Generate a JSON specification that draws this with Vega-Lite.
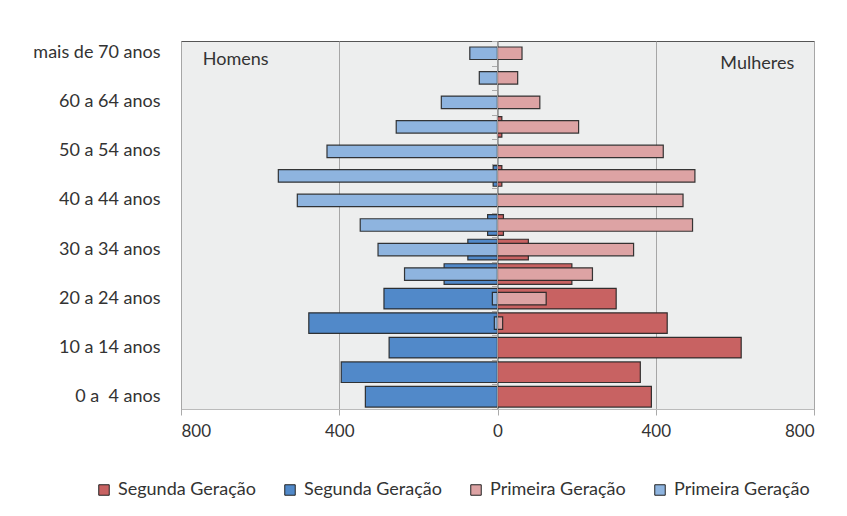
{
  "$schema": "https://vega.github.io/schema/vega-lite/v6.json",
  "width": 633,
  "height": 368,
  "autosize": {"type": "none"},
  "padding": {"left": 181, "top": 41, "right": 33, "bottom": 107},
  "background": "white",
  "config": {
    "font": "Lato",
    "view": {"fill": "#EDEEEE", "stroke": "#555555", "strokeWidth": 1}
  },
  "datasets": {
    "pop": [
      {"idade": "mais de 70 anos", "grupo": "H1", "valor": -70},
      {"idade": "65 a 69 anos", "grupo": "H1", "valor": -46},
      {"idade": "60 a 64 anos", "grupo": "H1", "valor": -142},
      {"idade": "55 a 59 anos", "grupo": "H1", "valor": -256},
      {"idade": "50 a 54 anos", "grupo": "H1", "valor": -431},
      {"idade": "45 a 49 anos", "grupo": "H1", "valor": -554},
      {"idade": "40 a 44 anos", "grupo": "H1", "valor": -506},
      {"idade": "35 a 39 anos", "grupo": "H1", "valor": -347},
      {"idade": "30 a 34 anos", "grupo": "H1", "valor": -302},
      {"idade": "25 a 29 anos", "grupo": "H1", "valor": -235},
      {"idade": "20 a 24 anos", "grupo": "H1", "valor": -13},
      {"idade": "15 a 19 anos", "grupo": "H1", "valor": -8},
      {"idade": "mais de 70 anos", "grupo": "M1", "valor": 62},
      {"idade": "65 a 69 anos", "grupo": "M1", "valor": 51},
      {"idade": "60 a 64 anos", "grupo": "M1", "valor": 107},
      {"idade": "55 a 59 anos", "grupo": "M1", "valor": 205},
      {"idade": "50 a 54 anos", "grupo": "M1", "valor": 419},
      {"idade": "45 a 49 anos", "grupo": "M1", "valor": 499},
      {"idade": "40 a 44 anos", "grupo": "M1", "valor": 469},
      {"idade": "35 a 39 anos", "grupo": "M1", "valor": 493},
      {"idade": "30 a 34 anos", "grupo": "M1", "valor": 344},
      {"idade": "25 a 29 anos", "grupo": "M1", "valor": 240},
      {"idade": "20 a 24 anos", "grupo": "M1", "valor": 123},
      {"idade": "15 a 19 anos", "grupo": "M1", "valor": 13},
      {"idade": "45 a 49 anos", "grupo": "H2", "valor": -11},
      {"idade": "35 a 39 anos", "grupo": "H2", "valor": -25},
      {"idade": "30 a 34 anos", "grupo": "H2", "valor": -75},
      {"idade": "25 a 29 anos", "grupo": "H2", "valor": -135},
      {"idade": "20 a 24 anos", "grupo": "H2", "valor": -287},
      {"idade": "15 a 19 anos", "grupo": "H2", "valor": -477},
      {"idade": "10 a 14 anos", "grupo": "H2", "valor": -274},
      {"idade": "5 a  9 anos", "grupo": "H2", "valor": -395},
      {"idade": "0 a \u00a04 anos", "grupo": "H2", "valor": -334},
      {"idade": "55 a 59 anos", "grupo": "M2", "valor": 11},
      {"idade": "45 a 49 anos", "grupo": "M2", "valor": 11},
      {"idade": "35 a 39 anos", "grupo": "M2", "valor": 15},
      {"idade": "30 a 34 anos", "grupo": "M2", "valor": 78},
      {"idade": "25 a 29 anos", "grupo": "M2", "valor": 188},
      {"idade": "20 a 24 anos", "grupo": "M2", "valor": 300},
      {"idade": "15 a 19 anos", "grupo": "M2", "valor": 429},
      {"idade": "10 a 14 anos", "grupo": "M2", "valor": 616},
      {"idade": "5 a  9 anos", "grupo": "M2", "valor": 361},
      {"idade": "0 a \u00a04 anos", "grupo": "M2", "valor": 389}
    ],
    "rotulos": [
      {"rotulo": "Homens", "lado": "H"},
      {"rotulo": "Mulheres", "lado": "M"}
    ]
  },
  "resolve": {"axis": {"y": "independent"}},
  "layer": [
    {
      "data": {"name": "pop"},
      "transform": [{"filter": "datum.grupo === 'H2' || datum.grupo === 'M2'"}],
      "mark": {"type": "bar", "height": {"band": 0.84}, "stroke": "#222222", "strokeWidth": 1.2, "strokeOpacity": 0.9},
      "encoding": {
        "y": {
          "field": "idade", "type": "nominal",
          "sort": ["mais de 70 anos","65 a 69 anos","60 a 64 anos","55 a 59 anos","50 a 54 anos","45 a 49 anos","40 a 44 anos","35 a 39 anos","30 a 34 anos","25 a 29 anos","20 a 24 anos","15 a 19 anos","10 a 14 anos","5 a  9 anos","0 a \u00a04 anos"],
          "scale": {"paddingInner": 0, "paddingOuter": 0},
          "axis": {
            "orient": "left", "title": null, "domain": false, "ticks": false,
            "values": ["mais de 70 anos","60 a 64 anos","50 a 54 anos","40 a 44 anos","30 a 34 anos","20 a 24 anos","10 a 14 anos","0 a \u00a04 anos"],
            "labelFontSize": 18, "labelColor": "#333333", "labelPadding": 21, "labelFont": "Lato"
          }
        },
        "x": {
          "field": "valor", "type": "quantitative",
          "scale": {"domain": [-800, 800], "nice": false},
          "axis": {
            "title": null, "values": [-800, -400, 0, 400, 800],
            "labelExpr": "abs(datum.value)",
            "labelFontSize": 17, "labelColor": "#333333", "labelPadding": 8,
            "grid": true, "gridColor": "#A6A6A6", "gridWidth": 1,
            "domainColor": "#BBBBBB", "tickColor": "#AAAAAA", "tickSize": 6
          }
        },
        "color": {
          "field": "grupo", "type": "nominal",
          "scale": {"domain": ["M2", "H2", "M1", "H1"], "range": ["#C86262", "#5189C9", "#DDA3A4", "#8EB4DF"]},
          "legend": {
            "title": null, "orient": "none", "direction": "horizontal",
            "legendX": -86, "legendY": 440,
            "labelExpr": "datum.value[1] === '2' ? 'Segunda Geração' : 'Primeira Geração'",
            "labelFontSize": 18, "labelColor": "#333333", "labelFont": "Lato",
            "symbolType": "square", "symbolSize": 110, "symbolStrokeColor": "#222222", "symbolStrokeWidth": 1,
            "columnPadding": 25, "labelOffset": 5
          }
        }
      }
    },
    {
      "data": {"name": "pop"},
      "transform": [{"filter": "datum.grupo === 'H1' || datum.grupo === 'M1'"}],
      "mark": {"type": "bar", "height": {"band": 0.51}, "stroke": "#222222", "strokeWidth": 1.2, "strokeOpacity": 0.9},
      "encoding": {
        "y": {
          "field": "idade", "type": "nominal",
          "sort": ["mais de 70 anos","65 a 69 anos","60 a 64 anos","55 a 59 anos","50 a 54 anos","45 a 49 anos","40 a 44 anos","35 a 39 anos","30 a 34 anos","25 a 29 anos","20 a 24 anos","15 a 19 anos","10 a 14 anos","5 a  9 anos","0 a \u00a04 anos"],
          "axis": {
            "orient": "left", "title": null, "labels": false, "domain": false,
            "ticks": true, "tickBand": "extent", "tickSize": 6, "tickColor": "#AAAAAA",
            "offset": -316.5, "grid": false
          }
        },
        "x": {"field": "valor", "type": "quantitative"},
        "color": {"field": "grupo", "type": "nominal"}
      }
    },
    {
      "data": {"values": [{"zero": 0}]},
      "mark": {"type": "rule", "color": "#999999", "strokeWidth": 1},
      "encoding": {"x": {"field": "zero", "type": "quantitative"}}
    },
    {
      "data": {"name": "rotulos"},
      "transform": [{"filter": "datum.lado === 'H'"}],
      "mark": {"type": "text", "align": "left", "baseline": "middle", "fontSize": 18, "color": "#333333", "dy": 7},
      "encoding": {
        "x": {"datum": -745},
        "y": {"datum": "mais de 70 anos", "axis": null},
        "text": {"field": "rotulo"}
      }
    },
    {
      "data": {"name": "rotulos"},
      "transform": [{"filter": "datum.lado === 'M'"}],
      "mark": {"type": "text", "align": "right", "baseline": "middle", "fontSize": 18, "color": "#333333", "dy": 11},
      "encoding": {
        "x": {"datum": 750},
        "y": {"datum": "mais de 70 anos", "axis": null},
        "text": {"field": "rotulo"}
      }
    }
  ]
}
